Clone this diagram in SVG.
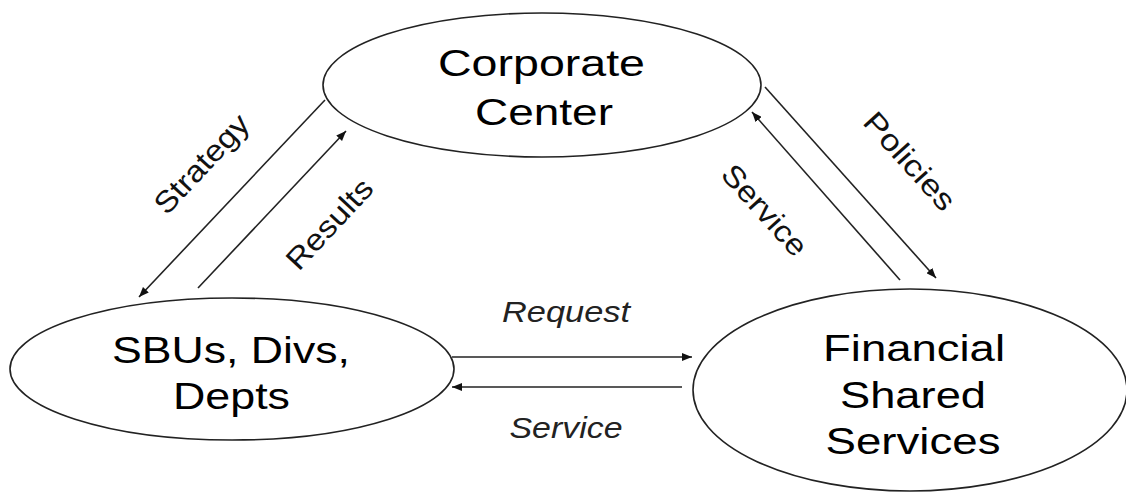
<svg xmlns="http://www.w3.org/2000/svg" width="1126" height="494" viewBox="0 0 1126 494">
<style>
.node{fill:#fff;stroke:#222;stroke-width:1.6}
.lbl{font-family:"Liberation Sans",Arial,sans-serif;font-size:37.5px;fill:#000;text-anchor:middle}
.edge{stroke:#222;stroke-width:1.6;fill:none;marker-end:url(#ah)}
.elbl{font-family:"Liberation Sans",Arial,sans-serif;font-size:30px;fill:#111;text-anchor:middle}
.it{font-style:italic;font-size:29px;fill:#222}
</style>
<defs>
<marker id="ah" viewBox="0 0 10 8" refX="10" refY="4" markerWidth="10" markerHeight="8" markerUnits="userSpaceOnUse" orient="auto">
<path d="M0,0 L10,4 L0,8 z" fill="#111"/>
</marker>
</defs>
<rect width="1126" height="494" fill="#fff"/>
<g id="corporate">
<ellipse class="node" cx="542" cy="85" rx="219" ry="72"/>
<text class="lbl" x="541.5" y="76" textLength="207" lengthAdjust="spacingAndGlyphs">Corporate</text>
<text class="lbl" x="544" y="125" textLength="138" lengthAdjust="spacingAndGlyphs">Center</text>
</g>
<g id="sbus">
<ellipse class="node" cx="232" cy="369" rx="222" ry="71"/>
<text class="lbl" x="231" y="363" textLength="238" lengthAdjust="spacingAndGlyphs">SBUs, Divs,</text>
<text class="lbl" x="231.5" y="409" textLength="117" lengthAdjust="spacingAndGlyphs">Depts</text>
</g>
<g id="fss">
<ellipse class="node" cx="910" cy="390" rx="217" ry="101"/>
<text class="lbl" x="914" y="361" textLength="182" lengthAdjust="spacingAndGlyphs">Financial</text>
<text class="lbl" x="913" y="408" textLength="146" lengthAdjust="spacingAndGlyphs">Shared</text>
<text class="lbl" x="913" y="454" textLength="175" lengthAdjust="spacingAndGlyphs">Services</text>
</g>
<g id="connectors">
<line class="edge" x1="325" y1="100" x2="139" y2="297"/>
<line class="edge" x1="198" y1="288" x2="346" y2="131"/>
<line class="edge" x1="765" y1="87" x2="936" y2="278"/>
<line class="edge" x1="900" y1="280" x2="752" y2="112"/>
<line class="edge" x1="452" y1="357" x2="692" y2="357"/>
<line class="edge" x1="682" y1="387" x2="452" y2="387"/>
<text class="elbl" transform="translate(209,171) rotate(-47)" textLength="124" lengthAdjust="spacingAndGlyphs">Strategy</text>
<text class="elbl" transform="translate(337,231) rotate(-47)" textLength="112" lengthAdjust="spacingAndGlyphs">Results</text>
<text class="elbl" transform="translate(902,168) rotate(48)" textLength="121" lengthAdjust="spacingAndGlyphs">Policies</text>
<text class="elbl" transform="translate(757,217) rotate(48)" textLength="112" lengthAdjust="spacingAndGlyphs">Service</text>
<text class="elbl it" x="566" y="322" textLength="128" lengthAdjust="spacingAndGlyphs">Request</text>
<text class="elbl it" x="566" y="438" textLength="113" lengthAdjust="spacingAndGlyphs">Service</text>
</g>
</svg>
